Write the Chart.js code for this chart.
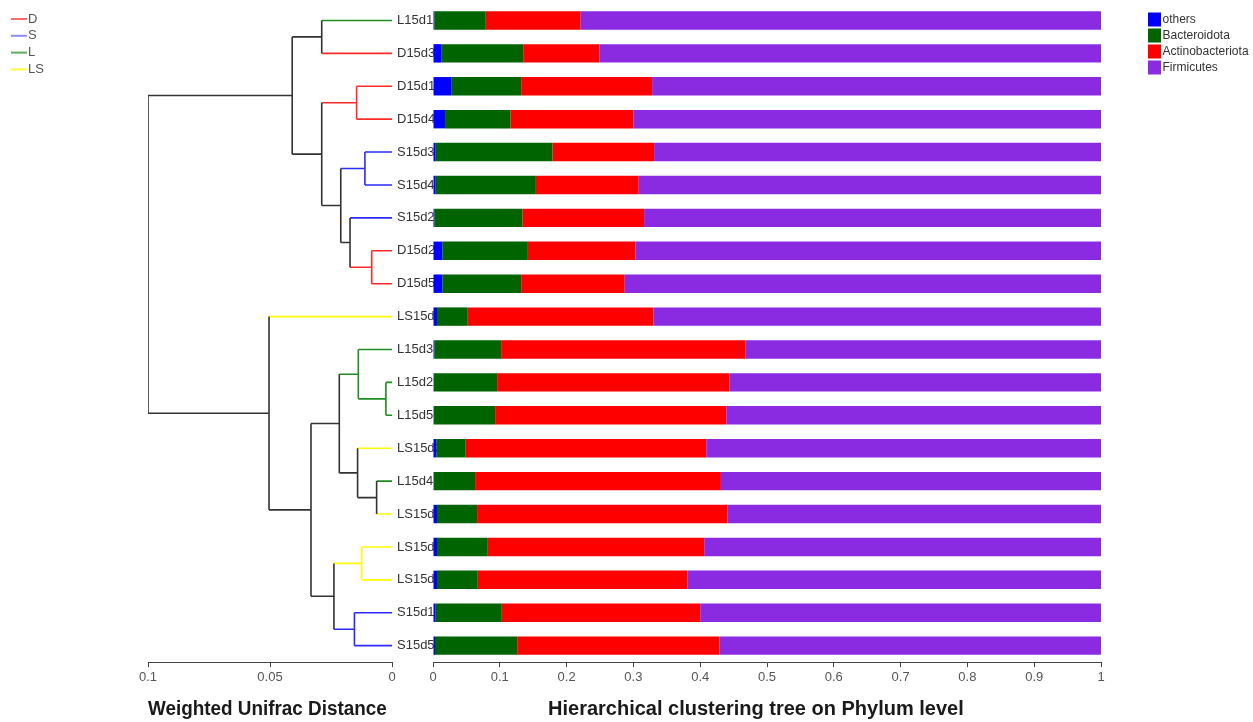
<!DOCTYPE html>
<html>
<head>
<meta charset="utf-8">
<script src="https://cdn.jsdelivr.net/npm/chart.js@4"></script>
<style>
  body { margin: 0; background: #fff; }
  #wrap { position: relative; width: 1253px; height: 722px; }
  .box { position: absolute; top: 0; height: 722px; }
</style>
</head>
<body>
<div id="wrap">
  <div class="box" style="left:0;width:440px"><canvas id="tree"></canvas></div>
  <div class="box" style="left:380px;width:873px"><canvas id="bars"></canvas></div>
</div>
<script>
// samples, top to bottom (dendrogram leaf order)
const leafLabels = ['L15d1', 'D15d3', 'D15d1', 'D15d4', 'S15d3', 'S15d4', 'S15d2', 'D15d2', 'D15d5', 'LS15d1',
  'L15d3', 'L15d2', 'L15d5', 'LS15d2', 'L15d4', 'LS15d3', 'LS15d4', 'LS15d5', 'S15d1', 'S15d5'];
const leafGroups = ['L', 'D', 'D', 'D', 'S', 'S', 'S', 'D', 'D', 'LS',
  'L', 'L', 'L', 'LS', 'L', 'LS', 'LS', 'LS', 'S', 'S'];
const groupNames = ['D', 'S', 'L', 'LS'];

// clustering merges: node 20+k joins mergeA[k] and mergeB[k] at mergeHeight[k]
const mergeA = [11, 14, 7, 4, 16, 10, 13, 2, 18, 6, 23, 25, 24, 27, 0, 31, 34, 9, 36];
const mergeB = [12, 15, 8, 5, 17, 20, 21, 3, 19, 22, 29, 26, 28, 30, 1, 32, 33, 35, 37];
const mergeHeight = [0.0025, 0.0063, 0.0083, 0.0111, 0.0124, 0.0138, 0.0141, 0.0145, 0.0154, 0.0172,
  0.021, 0.0216, 0.0238, 0.0288, 0.0288, 0.0332, 0.0409, 0.0504, 0.1];

// relative abundance per sample
const phyla = ['others', 'Bacteroidota', 'Actinobacteriota', 'Firmicutes'];
const others = [0.002, 0.013, 0.028, 0.018, 0.004, 0.004, 0.002, 0.014, 0.014, 0.006,
  0.002, 0.001, 0.001, 0.005, 0.001, 0.006, 0.006, 0.006, 0.004, 0.003];
const bacteroidota = [0.077, 0.122, 0.104, 0.098, 0.175, 0.150, 0.132, 0.128, 0.118, 0.046,
  0.100, 0.095, 0.092, 0.044, 0.062, 0.060, 0.076, 0.061, 0.099, 0.123];
const actinobacteriota = [0.142, 0.114, 0.196, 0.184, 0.152, 0.154, 0.182, 0.161, 0.155, 0.278,
  0.366, 0.348, 0.346, 0.360, 0.368, 0.375, 0.324, 0.314, 0.297, 0.303];
const firmicutes = [0.779, 0.751, 0.672, 0.700, 0.669, 0.692, 0.684, 0.697, 0.713, 0.670,
  0.532, 0.556, 0.561, 0.591, 0.569, 0.559, 0.594, 0.619, 0.600, 0.571];

const distTicks = [0, 0.05, 0.1];
const abundTicks = [0, 0.1, 0.2, 0.3, 0.4, 0.5, 0.6, 0.7, 0.8, 0.9, 1];

// styles
const branchColors = { D: '#ff2b2b', S: '#2b2bff', L: '#1e8c1e', LS: '#ffff00', mixed: '#333333' };
const legendColors = { D: '#ff6a6a', S: '#8c8cff', L: '#5fae5f', LS: '#ffff33' };
const phylumColors = ['#0000ff', '#006400', '#ff0000', '#8a2be2'];

Chart.defaults.font.family = '"Liberation Sans", Arial, Helvetica, sans-serif';
Chart.defaults.color = '#555';

function bottomAxis(title, ticks, reverse) {
  return {
    type: 'linear',
    min: ticks[0],
    max: ticks[ticks.length - 1],
    reverse: reverse,
    afterBuildTicks: (s) => { s.ticks = ticks.map(v => ({ value: v })); },
    border: { display: true, color: '#444', width: 1 },
    grid: { drawOnChartArea: false, drawTicks: true, tickLength: 5, color: '#444' },
    ticks: {
      padding: 3, color: '#555', font: { size: 13 },
      callback: (v) => String(Math.round(v * 1000) / 1000)
    },
    title: {
      display: true, text: title, color: '#1a1a1a',
      font: { size: 20, weight: 'bold' }, padding: { top: 8.3, bottom: 1 }
    }
  };
}

// ---- dendrogram ----
const nodeY = leafLabels.map((_, i) => i);
const nodeH = leafLabels.map(() => 0);
const nodeG = leafGroups.slice();
const segs = { mixed: [], D: [], S: [], L: [], LS: [] };
const gap = { x: NaN, y: NaN };

mergeA.forEach((a, k) => {
  const b = mergeB[k];
  const h = mergeHeight[k];
  const y = (nodeY[a] + nodeY[b]) / 2;
  const g = nodeG[a] === nodeG[b] ? nodeG[a] : 'mixed';
  segs[g].push({ x: h, y: nodeY[a] }, { x: h, y: nodeY[b] }, gap);
  [a, b].forEach(c => {
    segs[nodeG[c]].push({ x: h, y: nodeY[c] }, { x: nodeH[c], y: nodeY[c] }, gap);
  });
  nodeY.push(y);
  nodeH.push(h);
  nodeG.push(g);
});

const groupLegend = {
  id: 'groupLegend',
  afterDraw(chart) {
    const ctx = chart.ctx;
    ctx.save();
    ctx.font = '13px "Liberation Sans", Arial, sans-serif';
    ctx.textBaseline = 'middle';
    groupNames.forEach((g, i) => {
      const y = 19 + i * 16.8;
      ctx.strokeStyle = legendColors[g];
      ctx.lineWidth = 2;
      ctx.beginPath();
      ctx.moveTo(11, y);
      ctx.lineTo(27, y);
      ctx.stroke();
      ctx.fillStyle = '#555';
      ctx.fillText(g, 28, y);
    });
    ctx.restore();
  }
};

new Chart(document.getElementById('tree'), {
  type: 'scatter',
  data: {
    datasets: Object.keys(segs).map(k => ({
      label: k,
      data: segs[k],
      showLine: true,
      spanGaps: false,
      borderColor: branchColors[k],
      borderWidth: 1.6,
      pointRadius: 0,
      pointHoverRadius: 0
    }))
  },
  options: {
    responsive: true,
    maintainAspectRatio: false,
    animation: false,
    layout: { padding: { left: 148, right: 48, top: 4, bottom: 0 } },
    plugins: { legend: { display: false }, tooltip: { enabled: false } },
    scales: {
      x: bottomAxis('Weighted Unifrac Distance ', distTicks, true),
      y: { type: 'linear', min: -0.5, max: leafLabels.length - 0.5, reverse: true, display: false }
    }
  },
  plugins: [groupLegend]
});

// ---- stacked bars ----
const leafText = {
  id: 'leafText',
  beforeDatasetsDraw(chart) {
    const ctx = chart.ctx;
    const ys = chart.scales.y;
    ctx.save();
    ctx.font = '13px "Liberation Sans", Arial, sans-serif';
    ctx.fillStyle = '#333';
    ctx.textBaseline = 'middle';
    chart.data.labels.forEach((lab, i) => {
      ctx.fillText(lab, chart.chartArea.left - 36, ys.getPixelForValue(i));
    });
    ctx.restore();
  }
};

const phylumLegend = {
  id: 'phylumLegend',
  afterDraw(chart) {
    const ctx = chart.ctx;
    const x0 = chart.chartArea.right + 47;
    ctx.save();
    ctx.font = '12px "Liberation Sans", Arial, sans-serif';
    ctx.textBaseline = 'middle';
    chart.data.datasets.forEach((ds, i) => {
      const y = 19.5 + i * 16;
      ctx.fillStyle = ds.backgroundColor;
      ctx.fillRect(x0, y - 7, 13, 14);
      ctx.fillStyle = '#333';
      ctx.fillText(ds.label, x0 + 14.5, y);
    });
    ctx.restore();
  }
};

const series = [others, bacteroidota, actinobacteriota, firmicutes];

new Chart(document.getElementById('bars'), {
  type: 'bar',
  data: {
    labels: leafLabels,
    datasets: phyla.map((p, i) => ({
      label: p,
      data: series[i],
      backgroundColor: phylumColors[i],
      borderWidth: 0,
      barPercentage: 0.56,
      categoryPercentage: 1
    }))
  },
  options: {
    indexAxis: 'y',
    responsive: true,
    maintainAspectRatio: false,
    animation: false,
    layout: { padding: { left: 53, right: 152, top: 4, bottom: 0 } },
    plugins: { legend: { display: false }, tooltip: { enabled: false } },
    scales: {
      x: Object.assign(bottomAxis('Hierarchical clustering tree on Phylum level    ', abundTicks, false), { stacked: true }),
      y: { type: 'category', stacked: true, display: false, offset: true }
    }
  },
  plugins: [leafText, phylumLegend]
});
</script>
</body>
</html>
